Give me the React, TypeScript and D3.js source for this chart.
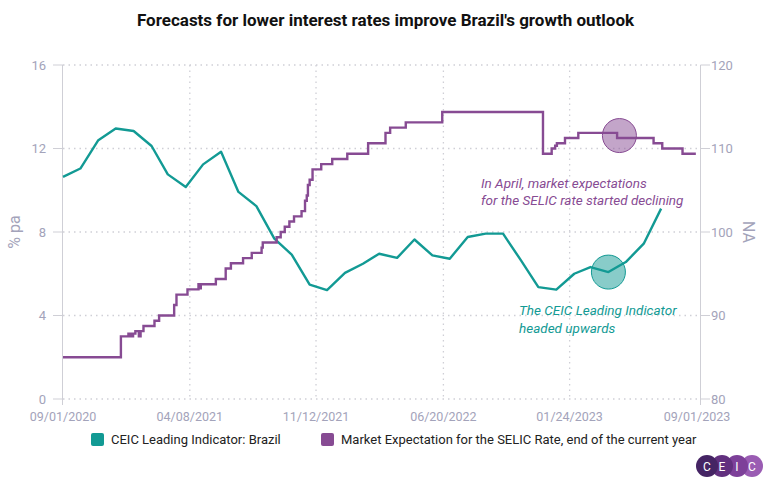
import React from "react";
import * as d3 from "d3";

const W = 771;
const H = 488;

const title = "Forecasts for lower interest rates improve Brazil's growth outlook";

const leiDates = [
  "2020-09-01","2020-10-01","2020-11-01","2020-12-01","2021-01-01","2021-02-01","2021-03-01","2021-04-01",
  "2021-05-01","2021-06-01","2021-07-01","2021-08-01","2021-09-01","2021-10-01","2021-11-01","2021-12-01",
  "2022-01-01","2022-02-01","2022-03-01","2022-04-01","2022-05-01","2022-06-01","2022-07-01","2022-08-01",
  "2022-09-01","2022-10-01","2022-11-01","2022-12-01","2023-01-01","2023-02-01","2023-03-01","2023-04-01",
  "2023-05-01","2023-06-01","2023-07-01",
];
const leiValues = [
  106.6, 107.6, 111.0, 112.4, 112.1, 110.3, 106.9, 105.4,
  108.1, 109.6, 104.8, 103.1, 99.2, 97.3, 93.7, 93.05,
  95.1, 96.2, 97.4, 96.9, 99.1, 97.2, 96.8, 99.4,
  99.8, 99.8, 96.6, 93.4, 93.1, 95.0, 95.8, 95.2,
  96.4, 98.6, 102.8,
];

const selicDates = [
  "2020-09-01","2020-12-10","2020-12-23","2020-12-27","2020-12-31","2021-01-04","2021-01-10","2021-01-13",
  "2021-01-18","2021-02-06","2021-02-14","2021-03-12","2021-03-16","2021-04-04","2021-04-23","2021-04-25",
  "2021-04-27","2021-05-23","2021-06-09","2021-06-18","2021-07-09","2021-07-24","2021-08-10","2021-08-12",
  "2021-09-05","2021-09-12","2021-09-19","2021-09-27","2021-10-05","2021-10-18","2021-10-24","2021-10-27",
  "2021-10-29","2021-11-01","2021-11-06","2021-11-21","2021-12-10","2022-01-05","2022-02-10","2022-03-12",
  "2022-03-20","2022-04-16","2022-06-18","2022-12-09","2022-12-24","2022-12-30","2023-01-02","2023-01-16",
  "2023-02-08","2023-04-16","2023-06-18","2023-07-03","2023-08-07","2023-08-30",
];
const selicValues = [
  2.0, 3.0, 3.13, 3.0, 3.13, 3.25, 3.0, 3.25,
  3.5, 3.75, 4.0, 4.5, 5.0, 5.25, 5.5, 5.3,
  5.5, 5.75, 6.25, 6.5, 6.75, 7.0, 7.25, 7.5,
  7.75, 8.0, 8.25, 8.5, 8.75, 9.0, 9.5, 9.75,
  10.25, 10.5, 11.0, 11.25, 11.5, 11.75, 12.25, 12.75,
  13.0, 13.25, 13.75, 11.75, 12.0, 12.13, 12.25, 12.5,
  12.75, 12.5, 12.25, 12.0, 11.75, 11.75,
];

const xTickDates = ["2020-09-01", "2021-04-08", "2021-11-12", "2022-06-20", "2023-01-24", "2023-09-01"];
const xTickLabels = ["09/01/2020", "04/08/2021", "11/12/2021", "06/20/2022", "01/24/2023", "09/01/2023"];
const leftTicks = [0, 4, 8, 12, 16];
const rightTicks = [80, 90, 100, 110, 120];

const legendLabels = ["CEIC Leading Indicator: Brazil", "Market Expectation for the SELIC Rate, end of the current year"];

const TEAL = "#129a94";
const PURPLE = "#874b93";
const AXIS = "#a3a3ba";
const GRID = "#cfcfd6";

const parse = d3.utcParse("%Y-%m-%d");

export default function App() {
  const left = 63, right = 697, top = 65, bottom = 399;
  const x = d3.scaleUtc().domain([parse("2020-09-01")!, parse("2023-09-01")!]).range([left, right]);
  const yL = d3.scaleLinear().domain([0, 16]).range([bottom, top]);
  const yR = d3.scaleLinear().domain([80, 120]).range([bottom, top]);

  const lei = leiDates.map((d, i) => ({ d: parse(d)!, v: leiValues[i] }));
  const selic = selicDates.map((d, i) => ({ d: parse(d)!, v: selicValues[i] }));

  const leiPath = d3.line<{ d: Date; v: number }>().x((p) => x(p.d)).y((p) => yR(p.v))(lei) || "";
  const selicPath = d3
    .line<{ d: Date; v: number }>()
    .x((p) => x(p.d))
    .y((p) => yL(p.v))
    .curve(d3.curveStepAfter)(selic) || "";

  const leiApr = lei.find((p) => +p.d === +parse("2023-04-01")!)!;
  const selicApr = { d: parse("2023-04-20")!, v: 12.62 };

  const font = "Roboto, 'Noto Sans', sans-serif";

  return (
    <svg width={W} height={H} style={{ position: "absolute", left: 0, top: 0, fontFamily: font }}>
      <rect width={W} height={H} fill="#fff" />
      <text x={W / 2} y={26} textAnchor="middle" fontSize={17} fontWeight="bold" fill="#111">
        {title}
      </text>

      {/* horizontal gridlines */}
      {leftTicks.map((t) => (
        <g key={"h" + t}>
          <line x1={left} x2={right} y1={yL(t)} y2={yL(t)} stroke={GRID} strokeWidth={1.3} strokeDasharray="1.5,4" />
          <line x1={left - 10} x2={left} y1={yL(t)} y2={yL(t)} stroke={GRID} strokeWidth={1} />
          <text x={left - 17} y={yL(t) + 4.5} textAnchor="end" fontSize={13} fill={AXIS}>
            {t}
          </text>
        </g>
      ))}
      {/* vertical gridlines */}
      {xTickDates.slice(1, -1).map((t) => (
        <line key={"v" + t} x1={x(parse(t)!)} x2={x(parse(t)!)} y1={top} y2={bottom} stroke={GRID} strokeWidth={1.3} strokeDasharray="1.5,4" />
      ))}
      {/* left axis */}
      <line x1={left - 0.5} x2={left - 0.5} y1={top} y2={bottom + 6} stroke={GRID} strokeWidth={1} />
      {/* right axis */}
      <line x1={right + 3.5} x2={right + 3.5} y1={top} y2={bottom + 6} stroke={GRID} strokeWidth={1} />
      {rightTicks.map((t) => (
        <g key={"r" + t}>
          <line x1={right + 3.5} x2={right + 13} y1={yR(t)} y2={yR(t)} stroke={GRID} strokeWidth={1} />
          <text x={right + 14} y={yR(t) + 4.5} textAnchor="start" fontSize={13} fill={AXIS}>
            {t}
          </text>
        </g>
      ))}
      {xTickDates.map((t, i) => (
        <text key={"x" + t} x={x(parse(t)!)} y={421} textAnchor="middle" fontSize={12.5} fill={AXIS}>
          {xTickLabels[i]}
        </text>
      ))}
      <text transform={`translate(20,232) rotate(-90)`} textAnchor="middle" fontSize={16} fill={AXIS}>
        % pa
      </text>
      <text transform={`translate(743,232) rotate(90)`} textAnchor="middle" fontSize={16} fill={AXIS}>
        NA
      </text>

      {/* series */}
      <path d={leiPath} fill="none" stroke={TEAL} strokeWidth={2.4} strokeLinejoin="round" />
      <path d={selicPath} fill="none" stroke={PURPLE} strokeWidth={2.4} />

      {/* highlight circles */}
      <circle cx={x(leiApr.d)} cy={yR(leiApr.v)} r={17} fill={TEAL} fillOpacity={0.5} stroke={TEAL} strokeWidth={1} />
      <circle cx={x(selicApr.d)} cy={yL(selicApr.v)} r={17} fill={PURPLE} fillOpacity={0.5} stroke={PURPLE} strokeWidth={1} />

      {/* annotations */}
      <g fontStyle="italic" fontSize={13.5}>
        <text x={481} y={188} fill={PURPLE}>In April, market expectations</text>
        <text x={481} y={205} fill={PURPLE}>for the SELIC rate started declining</text>
        <text x={519} y={315} fill={TEAL}>The CEIC Leading Indicator</text>
        <text x={519} y={333} fill={TEAL}>headed upwards</text>
      </g>

      {/* legend */}
      <rect x={91} y={433} width={13} height={13} rx={2} fill={TEAL} />
      <text x={111} y={444} fontSize={13} fill="#222">{legendLabels[0]}</text>
      <rect x={321} y={433} width={13} height={13} rx={2} fill={PURPLE} />
      <text x={341} y={444} fontSize={13} fill="#222">{legendLabels[1]}</text>

      {/* logo */}
      <g>
        {[
          { cx: 752, c: "#9a5cb3" },
          { cx: 737, c: "#7d4099" },
          { cx: 722, c: "#62307f" },
          { cx: 707, c: "#452464" },
        ].map((o) => (
          <circle key={o.cx} cx={o.cx} cy={466} r={11} fill={o.c} />
        ))}
        {[
          { cx: 707, l: "C" },
          { cx: 722, l: "E" },
          { cx: 737, l: "I" },
          { cx: 752, l: "C" },
        ].map((o) => (
          <text key={"t" + o.cx} x={o.cx} y={470.5} textAnchor="middle" fontSize={12} fill="#fff">
            {o.l}
          </text>
        ))}
      </g>
    </svg>
  );
}
